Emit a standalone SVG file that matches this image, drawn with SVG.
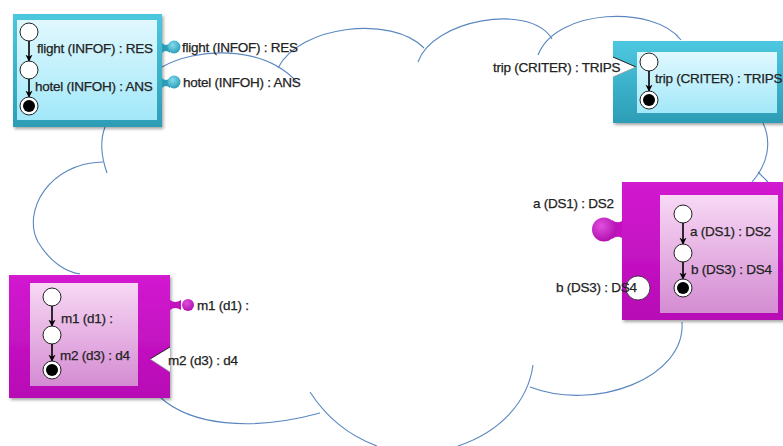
<svg xmlns="http://www.w3.org/2000/svg" width="783" height="446" viewBox="0 0 783 446">
<style>
text{font-family:"Liberation Sans",Arial,sans-serif;font-size:13.5px;letter-spacing:-0.25px;fill:#222;stroke:#222;stroke-width:0.25}
.cloud{fill:none;stroke:#5a87c0;stroke-width:1.1}
.st{fill:#fff;stroke:#222;stroke-width:1}
.fin{fill:#000}
.tr{stroke:#000;stroke-width:1.6;fill:none;marker-end:url(#ah)}
.tp{fill:url(#tealOut)}
.ti{fill:url(#tealIn)}
.mp{fill:url(#magOut)}
.mi{fill:url(#magIn)}
</style>
<defs>
<linearGradient id="tealOut" x1="0" y1="0" x2="0" y2="1"><stop offset="0" stop-color="#4cc8e0"/><stop offset="1" stop-color="#2d9db6"/></linearGradient>
<linearGradient id="tealIn" x1="0" y1="0" x2="0" y2="1"><stop offset="0" stop-color="#e0f8fe"/><stop offset="1" stop-color="#a2e8f9"/></linearGradient>
<linearGradient id="magOut" x1="0" y1="0" x2="0" y2="1"><stop offset="0" stop-color="#d21ad0"/><stop offset="1" stop-color="#b70bb5"/></linearGradient>
<linearGradient id="magIn" x1="0" y1="0" x2="0" y2="1"><stop offset="0" stop-color="#f8d8f5"/><stop offset="1" stop-color="#d48cd2"/></linearGradient>
<radialGradient id="tealBall" cx="0.4" cy="0.35" r="0.7"><stop offset="0" stop-color="#7fdcef"/><stop offset="1" stop-color="#2a9bb5"/></radialGradient>
<radialGradient id="magBall" cx="0.4" cy="0.35" r="0.7"><stop offset="0" stop-color="#e050de"/><stop offset="1" stop-color="#b00cae"/></radialGradient>
<marker id="ah" viewBox="0 0 10 10" refX="9" refY="5" markerWidth="4.5" markerHeight="4.5" orient="auto"><path d="M0,0 L10,5 L0,10 L3,5 z" fill="#000"/></marker>
<filter id="sh" x="-10%" y="-10%" width="130%" height="130%"><feDropShadow dx="1.5" dy="2" stdDeviation="1.5" flood-color="#000" flood-opacity="0.35"/></filter>
</defs>

<g id="cloud">
<path class="cloud" d="M162,67 C195,48 262,44 297,82"/>
<path class="cloud" d="M278,68 C300,25 392,15 424,48"/>
<path class="cloud" d="M418,62 C432,20 530,2 552,39"/>
<path class="cloud" d="M538,55 C556,8 655,5 681,40"/>
<path class="cloud" d="M763,123 C772,142 768,164 752,182"/>
<path class="cloud" d="M758,172 L768,182"/>
<path class="cloud" d="M682,322 C686,378 595,412 530,387"/>
<path class="cloud" d="M533,365 C528,402 500,432 458,446"/>
<path class="cloud" d="M160,397 C190,425 250,432 320,413"/>
<path class="cloud" d="M310,392 C328,420 350,436 377,446"/>
<path class="cloud" d="M105,127 C100,140 101,156 107,173"/>
<path class="cloud" d="M103,162 C48,163 22,212 38,242 C50,262 66,272 80,274"/>
</g>

<g id="node-travel">
<rect x="13" y="14" width="149" height="113" class="tp" filter="url(#sh)"/>
<rect x="17" y="20" width="140" height="100" class="ti"/>
<circle cx="29" cy="32" r="9" class="st"/>
<path class="tr" d="M29,41 V61"/>
<circle cx="29" cy="70" r="9" class="st"/>
<path class="tr" d="M29,79 V97"/>
<circle cx="29" cy="106" r="9" class="st"/>
<circle cx="29" cy="106" r="6" class="fin"/>
<text x="37" y="53">flight (INFOF) : RES</text>
<text x="35" y="91">hotel (INFOH) : ANS</text>
<path d="M162,43 Q166,47 170,43 V53 Q166,49 162,53 Z" fill="#2d9db6"/>
<circle cx="174" cy="47" r="6.5" fill="url(#tealBall)"/>
<path d="M162,78 Q166,82 170,78 V88 Q166,84 162,88 Z" fill="#2d9db6"/>
<circle cx="174" cy="82" r="6.5" fill="url(#tealBall)"/>
<text x="182" y="52">flight (INFOF) : RES</text>
<text x="183" y="87">hotel (INFOH) : ANS</text>
</g>

<g id="node-trip">
<rect x="613" y="41" width="172" height="82" class="tp" filter="url(#sh)"/>
<rect x="637" y="52" width="140" height="61" class="ti"/>
<polygon points="613,57 636,67 613,77" fill="#fff"/>
<path d="M613,57 L636,67" stroke="#222" stroke-width="1" fill="none"/>
<path d="M636,67 L613,77" stroke="#999" stroke-width="0.8" fill="none"/>
<circle cx="649" cy="62" r="9" class="st"/>
<path class="tr" d="M649,71 V91"/>
<circle cx="649" cy="100" r="9" class="st"/>
<circle cx="649" cy="100" r="6" class="fin"/>
<text x="655" y="83">trip (CRITER) : TRIPS</text>
<text x="493" y="72">trip (CRITER) : TRIPS</text>
</g>

<g id="node-ds">
<rect x="622" y="182" width="163" height="138" class="mp" filter="url(#sh)"/>
<rect x="660" y="195" width="118" height="118" class="mi"/>
<path d="M612,220 Q617,224 622,221 V238 Q617,235 612,239 Z" fill="#c212c0"/>
<circle cx="604" cy="229.5" r="12" fill="url(#magBall)"/>
<circle cx="638" cy="288" r="12" fill="#fff" stroke="#222" stroke-width="0.8"/>
<circle cx="683" cy="214" r="9" class="st"/>
<path class="tr" d="M683,223 V244"/>
<circle cx="683" cy="253" r="9" class="st"/>
<path class="tr" d="M683,262 V279"/>
<circle cx="683" cy="288" r="9" class="st"/>
<circle cx="683" cy="288" r="6" class="fin"/>
<text x="690" y="236">a (DS1) : DS2</text>
<text x="691" y="274">b (DS3) : DS4</text>
<text x="533" y="208">a (DS1) : DS2</text>
<text x="556" y="292">b (DS3) : DS4</text>
</g>

<g id="node-m">
<rect x="9" y="275" width="161" height="123" class="mp" filter="url(#sh)"/>
<rect x="30" y="283" width="108" height="103" class="mi"/>
<path d="M170,300 Q175,304 181,300 V310 Q175,306 170,310 Z" fill="#c212c0"/>
<circle cx="188" cy="305" r="6" fill="url(#magBall)"/>
<polygon points="170,347 150,359 170,372" fill="#fff"/>
<path d="M170,347 L150,359" stroke="#222" stroke-width="1" fill="none"/>
<path d="M150,359 L170,372" stroke="#999" stroke-width="0.8" fill="none"/>
<circle cx="52" cy="297" r="9" class="st"/>
<path class="tr" d="M52,306 V326"/>
<circle cx="52" cy="335" r="9" class="st"/>
<path class="tr" d="M52,344 V361"/>
<circle cx="52" cy="370" r="9" class="st"/>
<circle cx="52" cy="370" r="6" class="fin"/>
<text x="61" y="323">m1 (d1) :</text>
<text x="60" y="360">m2 (d3) : d4</text>
<text x="197" y="310">m1 (d1) :</text>
<text x="168" y="365">m2 (d3) : d4</text>
</g>
</svg>
